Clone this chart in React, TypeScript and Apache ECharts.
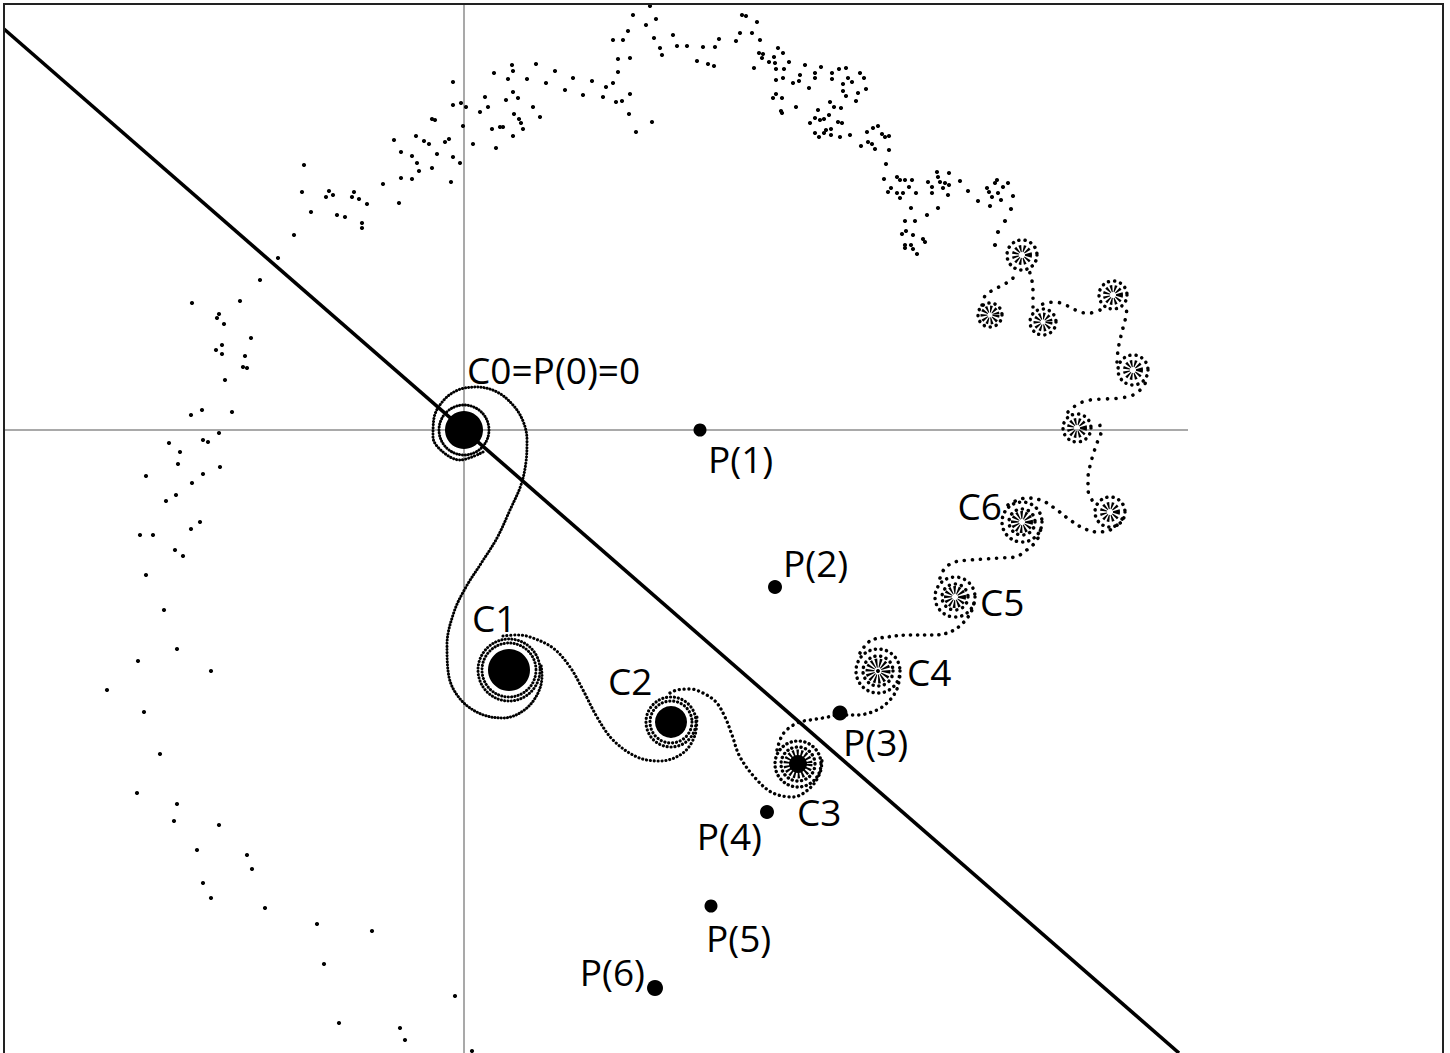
import React, { useEffect, useRef } from "react";
import * as echarts from "echarts";

type XY = [number, number];

// ---------- data (plane units: origin at C0 = P(0), P(1) = 236 units right) ----------
const pointNames = ["P(0)", "P(1)", "P(2)", "P(3)", "P(4)", "P(5)", "P(6)"];
const pointValues: XY[] = [
  [0, 0], [236, 0], [311, -157], [376, -283], [303, -382], [247, -476], [191, -558],
];

const centerNames = ["C0=P(0)=0", "C1", "C2", "C3", "C4", "C5", "C6", "", "", "", "", "", "", ""];
const centerValues: XY[] = [
  [0, 0], [45, -240], [207, -292], [334, -334], [414, -241], [491, -167], [558, -92],
  [646, -82], [613, 2], [669, 60], [649, 135], [579, 108], [526, 115], [558, 175],
];

// dotted curve pieces between successive spiral centres
const segC0C1: XY[] = [
  [19, -22], [-4, -30], [-21, -22], [-31, -7], [-30, 12], [-21, 29], [-6, 40], [13, 43],
  [33, 38], [49, 25], [59, 9], [63, -10], [62, -32], [57, -55], [46, -80], [33, -108],
  [18, -132], [2, -157], [-10, -182], [-17, -215], [-15, -247], [-3, -270], [17, -284],
  [39, -288], [59, -281], [73, -265], [78, -246], [77, -234],
];
const segC1C2: XY[] = [
  [39, -206], [53, -205], [66, -207], [89, -218], [106, -237], [119, -260], [133, -287],
  [149, -310], [173, -327], [196, -331], [219, -323], [231, -305], [233, -287],
];
const segC2C3: XY[] = [
  [206, -263], [213, -260], [226, -259], [239, -263], [252, -272], [261, -287], [268, -305],
  [276, -327], [293, -350], [309, -363], [329, -367], [346, -358], [356, -343], [358, -330],
];
const segC3C4: XY[] = [
  [313, -320], [319, -304], [333, -293], [346, -290], [359, -288], [376, -285], [393, -285],
  [413, -280], [425, -271], [433, -259], [436, -245],
];
const segC4C5: XY[] = [
  [396, -223], [406, -211], [423, -207], [446, -205], [469, -205], [486, -202], [499, -193],
  [508, -180], [511, -167],
];
const segC5C6: XY[] = [
  [476, -148], [481, -138], [491, -132], [506, -130], [521, -129], [536, -128], [551, -127],
  [564, -119], [573, -110], [577, -98],
];
const segC6C7: XY[] = [
  [544, -75], [549, -72], [563, -68], [579, -71], [593, -80], [606, -90], [619, -98],
  [633, -102], [646, -100], [656, -92], [662, -82],
];
const segC7C8: XY[] = [
  [628, -70], [624, -60], [624, -48], [626, -36], [629, -25], [633, -13], [637, -2], [635, 8],
];
const segC8C9: XY[] = [
  [604, 18], [614, 26], [626, 30], [641, 31], [656, 32], [669, 35], [678, 42], [684, 52],
];
const segC9C10: XY[] = [[653, 68], [654, 80], [656, 90], [659, 102], [662, 114], [663, 125]];
const segC10C11: XY[] = [[636, 120], [626, 117], [616, 118], [604, 124], [591, 128], [579, 126], [571, 122]];
const segC11C13: XY[] = [[569, 123], [569, 137], [568, 149], [565, 160]];
const segC12C13: XY[] = [[518, 125], [521, 134], [529, 140], [539, 145], [548, 151], [554, 158]];

const curveSegments: XY[][] = [
  segC0C1, segC1C2, segC2C3, segC3C4, segC4C5, segC5C6, segC6C7,
  segC7C8, segC8C9, segC9C10, segC10C11, segC11C13, segC12C13,
];

// scattered points of the far part of the curve
const scatterDots: XY[] = [
  [-186, 172], [-170, 195], [-160, 265], [-162, 238], [-153, 218], [-138, 233], [-135, 239],
  [-131, 235], [-127, 215], [-119, 213], [-112, 233], [-110, 238], [-105, 231], [-97, 226],
  [-102, 207], [-102, 202], [-81, 246], [-65, 227], [-70, 290], [-63, 278], [-63, 252],
  [-52, 274], [-52, 251], [-48, 294], [-47, 267], [-45, 259], [-40, 289], [-35, 286],
  [-32, 311], [-29, 310], [-32, 262], [-27, 276], [-19, 288], [-15, 291], [-11, 348],
  [-11, 325], [-11, 273], [-13, 248], [-4, 267], [-3, 327], [-1, 304], [2, 323], [9, 286],
  [16, 318], [21, 333], [24, 323], [28, 301], [30, 357], [32, 282], [36, 303], [39, 303],
  [42, 330], [44, 351], [48, 365], [49, 359], [49, 338], [50, 316], [54, 332], [55, 311],
  [57, 307], [59, 301], [49, 294], [63, 351], [69, 323], [72, 366], [76, 313], [82, 347],
  [91, 359], [101, 340], [109, 352], [119, 335], [128, 349], [139, 333], [142, 343],
  [149, 390], [149, 347], [152, 328], [154, 358], [154, 371], [158, 329], [159, 390],
  [164, 399], [166, 372], [166, 336], [165, 316], [172, 298], [169, 415], [182, 405],
  [186, 424], [188, 308], [190, 392], [192, 411], [196, 382], [198, 375],
  [209, 395], [213, 384], [223, 384], [233, 369], [239, 383], [244, 366], [250, 364],
  [251, 383], [255, 391], [272, 389], [276, 397], [278, 415], [282, 414], [288, 397],
  [293, 408], [290, 362], [296, 390], [295, 377], [299, 376], [298, 372], [305, 368],
  [310, 373], [311, 367], [314, 382], [319, 377], [312, 361], [320, 361], [325, 368],
  [312, 350], [319, 352], [329, 347], [336, 355], [335, 349], [341, 365], [345, 342],
  [351, 357], [351, 352], [357, 363], [368, 357], [368, 351], [375, 361], [382, 362],
  [379, 346], [379, 339], [382, 334], [384, 352], [388, 348], [394, 337], [392, 329],
  [396, 357], [400, 352], [402, 341], [309, 332], [312, 336], [318, 332], [317, 319],
  [318, 317], [332, 323], [346, 307], [351, 312], [354, 320], [356, 310], [360, 311],
  [365, 315], [366, 328], [370, 323], [377, 322], [374, 308], [378, 307], [351, 297],
  [355, 293], [360, 297], [362, 300], [367, 301], [367, 295], [376, 293], [386, 295],
  [397, 284], [403, 298], [404, 288], [409, 302], [414, 304], [408, 286], [411, 281],
  [418, 296], [421, 293], [425, 294], [425, 280], [422, 266], [420, 251], [424, 238],
  [427, 242], [433, 253], [433, 237], [436, 250], [439, 237], [441, 250], [445, 243],
  [448, 250], [452, 237], [436, 232], [447, 222], [441, 209], [451, 209], [438, 196],
  [442, 199], [449, 195], [459, 191], [461, 188], [441, 185], [441, 182], [447, 185],
  [449, 181], [453, 176], [463, 215], [464, 248], [468, 243], [468, 237], [473, 258],
  [474, 253], [476, 248], [474, 222], [479, 242], [481, 247], [485, 257], [484, 235],
  [485, 245], [496, 249], [504, 239], [514, 229], [523, 242], [525, 238], [528, 233],
  [526, 224], [531, 247], [533, 250], [534, 237], [537, 230], [539, 243], [544, 247],
  [547, 221], [549, 234], [541, 209], [534, 198], [531, 185],
  [-272, 127], [-247, 112], [-245, 116], [-240, 106], [-224, 129], [-204, 150], [-248, 80],
  [-242, 85], [-242, 76], [-213, 92], [-219, 74], [-221, 63], [-217, 62], [-239, 50],
  [-262, 20], [-273, 15], [-232, 18], [-245, -3], [-261, -10], [-256, -12], [-295, -13],
  [-284, -22], [-286, -34], [-244, -37], [-261, -44], [-318, -46], [-272, -53], [-288, -65],
  [-298, -71], [-264, -92], [-273, -99], [-324, -105], [-311, -105], [-289, -120],
  [-281, -126], [-318, -145], [-300, -180], [-287, -219], [-326, -231], [-253, -241],
  [-357, -260], [-320, -282], [-304, -324], [-327, -363], [-287, -374], [-290, -391],
  [-245, -395], [-267, -420], [-217, -425], [-212, -439], [-261, -453], [-253, -468],
  [-199, -478], [-147, -494], [-92, -501], [-140, -534], [-9, -566], [-125, -593],
  [-64, -598], [-59, -610], [8, -621],
];

const realAxisLine: XY[] = [[-459, 0], [724, 0]];
const imagAxisLine: XY[] = [[0, 427], [0, -623]];
const diagonalLine: XY[] = [[-460, 401], [715, -623]];

// ---------- styles ----------
const X_RANGE: XY = [-464, 986];
const Y_RANGE: XY = [-623, 430];
const segmentGap = [3, 3.8, 4.8, 6, 7, 8, 8, 8.5, 8.5, 8.5, 8.5, 8.5, 8.5];
const segmentWidth = [3, 3.1, 3.3, 3.5, 3.6, 3.6, 3.6, 3.6, 3.6, 3.6, 3.6, 3.6, 3.6];
const spiralStyle = [
  { core: 19, spike: 0, spikeW: 0, rings: [25], gap: 2.8, ringW: 3 },
  { core: 21, spike: 0, spikeW: 0, rings: [27, 31], gap: 3.2, ringW: 3 },
  { core: 16, spike: 0, spikeW: 0, rings: [21, 25], gap: 3.8, ringW: 3.2 },
  { core: 9, spike: 10, spikeW: 9, rings: [17, 23], gap: 4.5, ringW: 3.4 },
  { core: 2, spike: 8, spikeW: 9, rings: [15, 22], gap: 5.5, ringW: 3.5 },
  { core: 0, spike: 7, spikeW: 8, rings: [13, 20], gap: 6, ringW: 3.5 },
  { core: 0, spike: 7, spikeW: 8, rings: [13, 20], gap: 6, ringW: 3.5 },
  { core: 0, spike: 6.5, spikeW: 7, rings: [15], gap: 6, ringW: 3.5 },
  { core: 0, spike: 6.5, spikeW: 7, rings: [14], gap: 6, ringW: 3.5 },
  { core: 0, spike: 6.5, spikeW: 7, rings: [15], gap: 6, ringW: 3.5 },
  { core: 0, spike: 6.5, spikeW: 7, rings: [14], gap: 6, ringW: 3.5 },
  { core: 0, spike: 6, spikeW: 7, rings: [13], gap: 6, ringW: 3.5 },
  { core: 0, spike: 6, spikeW: 7, rings: [12], gap: 6, ringW: 3.5 },
  { core: 0, spike: 6.5, spikeW: 7, rings: [15], gap: 6, ringW: 3.5 },
];
const pointSizes = [12, 13, 14, 15, 14, 13, 16];
const pointLabelStyle = [
  null,
  { align: "left", offset: [8, 28] },
  { align: "left", offset: [8, -25] },
  { align: "left", offset: [3, 28] },
  { align: "right", offset: [-5, 23] },
  { align: "left", offset: [-5, 31] },
  { align: "right", offset: [-10, -17] },
];
const centerLabelStyle = [
  { align: "left", offset: [3, -61] },
  { align: "left", offset: [-37, -53] },
  { align: "left", offset: [-63, -42] },
  { align: "left", offset: [-1, 47] },
  { align: "left", offset: [29, 0] },
  { align: "left", offset: [25, 4] },
  { align: "right", offset: [-20, -17] },
];

const FONT = "'Open Sans', 'Noto Sans', sans-serif";
const INK = "#000";

function buildOption(): any {
  const series: any[] = [];

  // gray coordinate axes
  [realAxisLine, imagAxisLine].forEach((d) =>
    series.push({
      type: "line", data: d, symbol: "none", silent: true, z: 1,
      lineStyle: { color: "#8c8c8c", width: 1.5, opacity: 1 },
    })
  );

  series.push({
    type: "scatter", data: scatterDots, symbol: "circle", symbolSize: 4.2, silent: true, z: 2,
    itemStyle: { color: INK, opacity: 1 },
  });

  curveSegments.forEach((seg, i) =>
    series.push({
      type: "line", data: seg, smooth: 0.35, symbol: "none", silent: true, z: 3,
      lineStyle: {
        color: INK, opacity: 1, width: segmentWidth[i],
        type: [0.1, segmentGap[i]], cap: "round",
      },
    })
  );

  const ringItems: any[] = [];
  const spikeItems: any[] = [];
  const coreItems: any[] = [];
  centerValues.forEach((c, i) => {
    const s = spiralStyle[i];
    s.rings.forEach((r) =>
      ringItems.push({
        value: c, symbolSize: 2 * r,
        itemStyle: {
          color: "rgba(0,0,0,0)", borderColor: INK, borderWidth: s.ringW, opacity: 1,
          borderType: [0.1, s.gap], borderCap: "round",
        },
      })
    );
    if (s.spike > 0)
      spikeItems.push({
        value: c, symbolSize: 2 * s.spike,
        itemStyle: {
          color: "rgba(0,0,0,0)", borderColor: INK, borderWidth: s.spikeW, opacity: 1,
          borderType: [1.8, 1.7], borderCap: "butt",
        },
      });
    if (s.core > 0) coreItems.push({ value: c, symbolSize: 2 * s.core });
  });
  series.push({ type: "scatter", data: ringItems, symbol: "circle", silent: true, z: 4 });
  series.push({ type: "scatter", data: spikeItems, symbol: "circle", silent: true, z: 4 });
  series.push({
    type: "scatter", data: coreItems, symbol: "circle", silent: true, z: 5,
    itemStyle: { color: INK, opacity: 1 },
  });

  series.push({
    type: "line", data: diagonalLine, symbol: "none", silent: true, z: 6,
    lineStyle: { color: INK, width: 3.6, opacity: 1 },
  });

  series.push({
    type: "scatter", silent: true, z: 7, symbol: "circle",
    data: pointValues.map((v, i) => ({ value: v, symbolSize: pointSizes[i] })),
    itemStyle: { color: INK, opacity: 1 },
  });

  const labelItems: any[] = [];
  pointValues.forEach((v, i) => {
    const st = pointLabelStyle[i];
    if (!st) return;
    labelItems.push({ value: v, name: pointNames[i], label: { align: st.align, offset: st.offset } });
  });
  centerValues.forEach((v, i) => {
    const st = centerLabelStyle[i];
    if (!st || !centerNames[i]) return;
    labelItems.push({ value: v, name: centerNames[i], label: { align: st.align, offset: st.offset } });
  });
  series.push({
    type: "scatter", silent: true, z: 8, symbol: "circle", symbolSize: 1,
    itemStyle: { color: "rgba(0,0,0,0)", opacity: 1 },
    data: labelItems,
    label: {
      show: true, position: "inside", verticalAlign: "middle",
      formatter: (p: any) => p.name,
      fontFamily: FONT, fontSize: 37, color: INK, opacity: 1,
    },
  });

  return {
    animation: false,
    backgroundColor: "#fff",
    grid: { left: 0, right: 0, top: 0, bottom: 0, containLabel: false },
    xAxis: { type: "value", min: X_RANGE[0], max: X_RANGE[1], show: false },
    yAxis: { type: "value", min: Y_RANGE[0], max: Y_RANGE[1], show: false },
    graphic: [
      {
        type: "rect", silent: true, z: 100,
        shape: { x: 4, y: 4, width: 1439, height: 1070 },
        style: { fill: "none", stroke: "#222", lineWidth: 2 },
      },
    ],
    series,
  };
}

export default function App() {
  const ref = useRef<HTMLDivElement>(null);
  useEffect(() => {
    if (!ref.current) return;
    const chart = echarts.init(ref.current, undefined, { renderer: "svg" });
    chart.setOption(buildOption());
    return () => chart.dispose();
  }, []);
  return (
    <div
      ref={ref}
      style={{ position: "absolute", left: 0, top: 0, width: 1450, height: 1053, background: "#fff" }}
    />
  );
}
